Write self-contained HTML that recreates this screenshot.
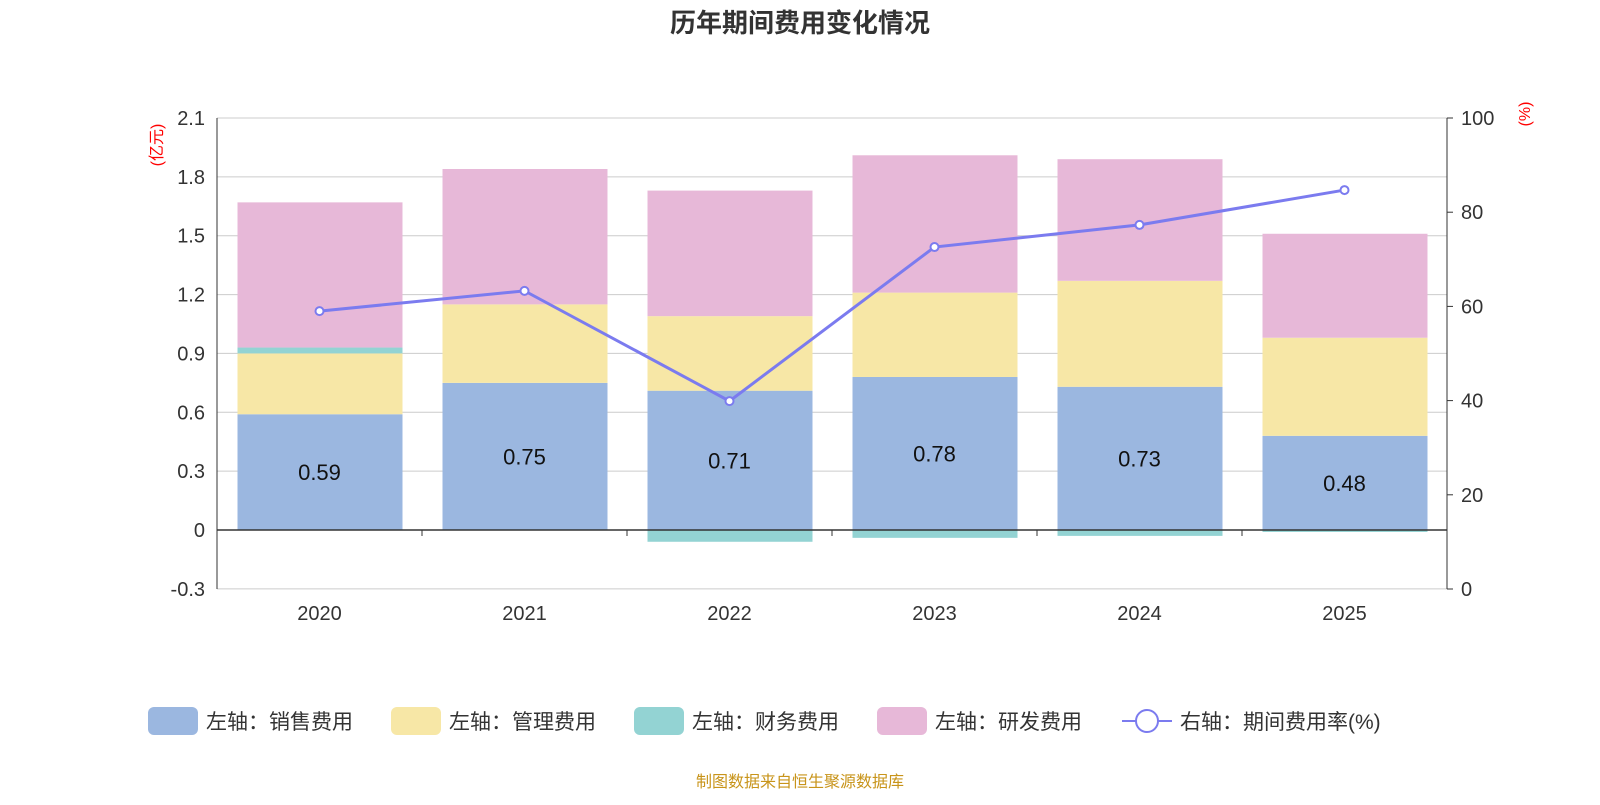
<!DOCTYPE html>
<html><head><meta charset="utf-8"><style>
body{margin:0;background:#fff;font-family:"Liberation Sans","Noto Sans CJK SC",sans-serif}
svg text{font-family:"Liberation Sans","Noto Sans CJK SC",sans-serif}
</style></head><body>
<svg id="c" width="1600" height="800" xmlns="http://www.w3.org/2000/svg">
<text x="800" y="32" text-anchor="middle" font-size="26" font-weight="bold" fill="#333">历年期间费用变化情况</text>
<text x="800" y="787" text-anchor="middle" font-size="16" fill="#c8941a">制图数据来自恒生聚源数据库</text>
<g id="g"></g>
</svg>
<script>
const categories=["2020","2021","2022","2023","2024","2025"];
const sales=[0.59,0.75,0.71,0.78,0.73,0.48];
const mgmt=[0.31,0.40,0.38,0.43,0.54,0.50];
const fin=[0.03,0,-0.06,-0.04,-0.03,-0.01];
const rnd=[0.74,0.69,0.64,0.70,0.62,0.53];
const rate=[59.0,63.3,39.9,72.6,77.3,84.7];
const leftTicks=[-0.3,0,0.3,0.6,0.9,1.2,1.5,1.8,2.1];
const rightTicks=[0,20,40,60,80,100];
const NS="http://www.w3.org/2000/svg";
const g=document.getElementById('g');
const X0=217,X1=1447,Y0=530,per=412/2.1;
const yL=v=>Y0-v*per;
const yR=v=>589-v*(589-118)/100;
const bw=(X1-X0)/categories.length;
const xc=i=>X0+bw*(i+0.5);
function el(t,a,txt){const e=document.createElementNS(NS,t);for(const k in a)e.setAttribute(k,a[k]);if(txt!=null)e.textContent=txt;g.appendChild(e);return e;}
leftTicks.forEach(t=>{
 const gl=el('line',{x1:X0,x2:X1,y1:yL(t),y2:yL(t),stroke:'#ccc','stroke-width':1});
 
 
 const tx=el('text',{x:X0-12,y:yL(t)+7,'text-anchor':'end','font-size':20,fill:'#333'},t===0?'0':t.toFixed(1));
 
 
});
rightTicks.forEach(t=>{
 const tx=el('text',{x:X1+14,y:yR(t)+7,'font-size':20,fill:'#333'},String(t));
 
 
 el('line',{x1:X1,x2:X1+6,y1:yR(t),y2:yR(t),stroke:'#333'});
});
const cols=['#9bb7e0','#f7e7a6','#93d3d3','#e7b8d8'];
const series=[sales,mgmt,fin,rnd];
const names=['sales','mgmt','finance','rnd'];
categories.forEach((c,i)=>{
 let pos=0,neg=0;
 series.forEach((s,k)=>{
  const v=s[i];let y1,y2;
  if(v>=0){y1=pos;y2=pos+v;pos=y2;}else{y1=neg;y2=neg+v;neg=y2;}
  const r=el('rect',{x:xc(i)-82,width:165,y:Math.min(yL(y1),yL(y2)),height:Math.abs(yL(y1)-yL(y2)),fill:cols[k]});
  
  
 });
 const lb=el('text',{x:xc(i),y:yL(sales[i]/2)+8,'text-anchor':'middle','font-size':22,fill:'#111'},sales[i].toFixed(2));
 
 
 const xl=el('text',{x:xc(i),y:620,'text-anchor':'middle','font-size':20,fill:'#333'},c);
 
 
 el('line',{x1:X0+bw*(i+1),x2:X0+bw*(i+1),y1:Y0,y2:Y0+6,stroke:'#333'});
});
el('line',{x1:X0,x2:X1,y1:Y0,y2:Y0,stroke:'#333','stroke-width':1.5});
el('line',{x1:X0,x2:X0,y1:118,y2:589,stroke:'#333'});
el('line',{x1:X1,x2:X1,y1:118,y2:589,stroke:'#333'});
const ln=el('polyline',{points:rate.map((v,i)=>xc(i)+','+yR(v)).join(' '),fill:'none',stroke:'#7b7bef','stroke-width':3});


rate.forEach((v,i)=>{const p=el('circle',{cx:xc(i),cy:yR(v),r:4,fill:'#fff',stroke:'#7b7bef','stroke-width':2});
 
 });
const u1=el('text',{x:162,y:145,'font-size':16,fill:'red','text-anchor':'middle',transform:'rotate(-90 162 145)'},'(亿元)');


const u2=el('text',{x:1530,y:114,'font-size':16,fill:'red','text-anchor':'middle',transform:'rotate(-90 1530 114)'},'(%)');


const leg=[['左轴：销售费用',148],['左轴：管理费用',391],['左轴：财务费用',634],['左轴：研发费用',877]];
leg.forEach((l,k)=>{
 const r=el('rect',{x:l[1],y:707,width:50,height:28,rx:6,fill:cols[k]});
 
 
 const t=el('text',{x:l[1]+58,y:729,'font-size':21,fill:'#333'},l[0]);
 
 
});
el('line',{x1:1122,x2:1172,y1:721,y2:721,stroke:'#7b7bef','stroke-width':2});
el('circle',{cx:1147,cy:721,r:11,fill:'#fff',stroke:'#7b7bef','stroke-width':2});
const lt=el('text',{x:1180,y:729,'font-size':21,fill:'#333'},'右轴：期间费用率(%)');


</script>
</body></html>
